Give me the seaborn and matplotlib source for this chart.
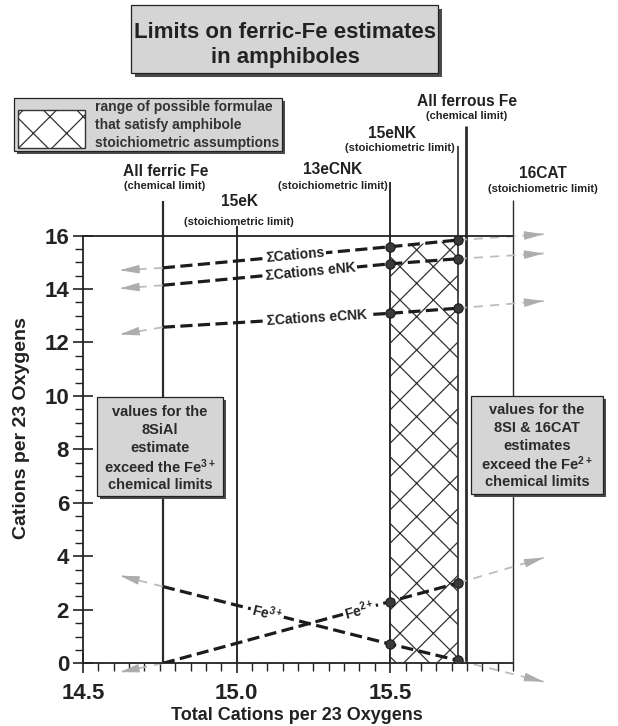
import numpy as np
import pandas as pd
import matplotlib
matplotlib.use('Agg')
import matplotlib.pyplot as plt
from matplotlib.patches import Rectangle
import seaborn as sns

# estimate positions (all ferric Fe, 13eCNK, 15eNK) and extrapolation ends
est_x = [14.76, 15.5, 15.72]
ext_x = [14.62, 16.0]

sum_cations = [14.79, 15.58, 15.83]
sum_enk = [14.14, 14.94, 15.13]
sum_ecnk = [12.57, 13.09, 13.28]
fe3 = [2.87, 0.72, 0.11]
fe2 = [0.0, 2.31, 3.00]

sum_cations_ext = [14.70, 16.05]
sum_enk_ext = [14.02, 15.33]
sum_ecnk_ext = [12.30, 13.55]
fe3_ext = [3.28, -0.69]
fe2_ext = [-0.33, 3.95]

series_names = ['ΣCations', 'ΣCations eNK', 'ΣCations eCNK', 'Fe$^{3+}$', 'Fe$^{2+}$']
series_vals = [sum_cations, sum_enk, sum_ecnk, fe3, fe2]
series_ext = [sum_cations_ext, sum_enk_ext, sum_ecnk_ext, fe3_ext, fe2_ext]
label_at = [15.19, 15.24, 15.26, 15.10, 15.40]

# vertical limits
limit_names = ['All ferric Fe', '15eK', '13eCNK', '15eNK', 'All ferrous Fe', '16CAT']
limit_notes = ['(chemical limit)', '(stoichiometric limit)', '(stoichiometric limit)',
               '(stoichiometric limit)', '(chemical limit)', '(stoichiometric limit)']
limit_x = [14.76, 15.0, 15.5, 15.72, 15.746, 15.9]
limit_top = [17.28, 16.35, 18.0, 19.35, 20.1, 17.33]

x_ticks = [14.5, 15.0, 15.5]
x_ticklabels = ['14.5', '15.0', '15.5']
y_ticks = [0, 2, 4, 6, 8, 10, 12, 14, 16]

left_box_lines = ['values for the', '8SiAl', 'estimate', 'exceed the Fe$^{3+}$', 'chemical limits']
right_box_lines = ['values for the', '8SI & 16CAT', 'estimates', 'exceed the Fe$^{2+}$', 'chemical limits']
legend_lines = ['range of possible formulae', 'that satisfy amphibole', 'stoichiometric assumptions']

sns.set_theme(style='ticks')
plt.rcParams['font.family'] = ['Liberation Sans', 'DejaVu Sans']
plt.rcParams['mathtext.fontset'] = 'custom'
plt.rcParams['mathtext.rm'] = 'Liberation Sans:bold'
plt.rcParams['mathtext.it'] = 'Liberation Sans:bold'
plt.rcParams['mathtext.bf'] = 'Liberation Sans:bold'
plt.rcParams['hatch.linewidth'] = 0.9
plt.rcParams['lines.dashed_pattern'] = [3.8, 1.7]

W, H = 618, 726
INK = '#222222'


def fx(px):
    return px / W


def fy(py):
    return 1 - py / H


fig = plt.figure(figsize=(W / 100, H / 100), dpi=100)
ax = fig.add_axes([fx(83), fy(663.3), 430 / W, 427.8 / H])
ax.set_xlim(14.5, 15.9)
ax.set_ylim(0, 16)

# hatched range of acceptable formulae
ax.fill_between(est_x[1:], 0, sum_cations[1:], facecolor='white', edgecolor='#333333',
                hatch='x', linewidth=0, zorder=1)

# limit lines
limit_lw = [1.6, 1.4, 1.4, 1.2, 2.0, 1.0]
for xv, top, lw in zip(limit_x, limit_top, limit_lw):
    ax.plot([xv, xv], [0, top], color='#2b2b2b', lw=lw, clip_on=False, zorder=2,
            solid_capstyle='butt')

# black dashed estimate lines + dots
rows = []
for name, ys in zip(series_names, series_vals):
    for xv, yv in zip(est_x, ys):
        rows.append((name, xv, yv))
df = pd.DataFrame(rows, columns=['series', 'x', 'y'])
sns.lineplot(data=df, x='x', y='y', units='series', estimator=None, sort=False,
             color='#1c1c1c', lw=2.3, linestyle='--', ax=ax, legend=False, zorder=3)
dots = df[df['x'] > est_x[0]]
sns.scatterplot(data=dots, x='x', y='y', s=45, color='#3a3a3a', edgecolor='#1a1a1a',
                linewidth=0.8, ax=ax, legend=False, zorder=4)

# gray extrapolations with arrow heads
for ys, ext in zip(series_vals, series_ext):
    for x0, y0, x1, y1 in [(est_x[0], ys[0], ext_x[0], ext[0]), (est_x[-1], ys[-1], ext_x[1], ext[1])]:
        ax.plot([x0, x1], [y0, y1], color='#bdbdbd', lw=1.3, ls=(0, (5, 4)), clip_on=False, zorder=2)
        bx = x1 - (x1 - x0) * 0.2
        by = y1 - (y1 - y0) * 0.2
        ax.annotate('', xy=(x1, y1), xytext=(bx, by), annotation_clip=False,
                    arrowprops=dict(arrowstyle='-|>,head_length=1.0,head_width=0.22',
                                    color='#adadad', lw=0.8, shrinkA=0, shrinkB=0))

# in-line labels
for name, ys, xl in zip(series_names, series_vals, label_at):
    yl = np.interp(xl, est_x, ys)
    slope = (ys[1] - ys[0]) / (est_x[1] - est_x[0])
    ax.text(xl, yl, name, rotation=np.degrees(np.arctan(slope)), transform_rotates_text=True,
            rotation_mode='anchor', ha='center', va='center', fontsize=10, fontweight='bold',
            color=INK, bbox=dict(fc='white', ec='none', pad=1.2), zorder=5)

# axes cosmetics
ax.spines['right'].set_visible(False)
for s in ['left', 'bottom', 'top']:
    ax.spines[s].set_linewidth(1.3)
    ax.spines[s].set_color(INK)
ax.set_xticks(x_ticks)
ax.set_xticklabels(x_ticklabels)
ax.set_xticks(np.arange(14.55, 15.91, 0.05), minor=True)
ax.set_yticks(y_ticks)
ax.set_yticks(np.arange(0, 16.1, 0.5), minor=True)
ax.tick_params(which='major', direction='inout', length=14, width=1.2, labelsize=16,
               colors=INK, pad=3)
ax.tick_params(which='minor', direction='out', length=6, width=1, colors=INK)
ax.tick_params(axis='x', which='major', pad=7)
for lab in ax.get_xticklabels() + ax.get_yticklabels():
    lab.set_fontweight('bold')
ax.set_xlabel('')
ax.set_ylabel('')

fig.text(fx(297), fy(715), 'Total Cations per 23 Oxygens', ha='center', va='center',
         fontsize=13, fontweight='bold', color=INK)
fig.text(fx(22), fy(428), 'Cations per 23 Oxygens', ha='center', va='center', rotation=90,
         fontsize=14, fontweight='bold', color=INK)

# labels of the limit lines (pixel layout)
label_pos = [(166, 172), (239.5, 202), (333, 169), (392, 133), (467, 102), (543, 173)]
note_pos = [(165, 186, 'center'), (239, 222, 'center'), (388, 186, 'right'),
            (455, 148, 'right'), (467, 116, 'center'), (543, 189, 'center')]
for name, note, (lx, ly), (nx, ny, nha) in zip(limit_names, limit_notes, label_pos, note_pos):
    fig.text(fx(lx), fy(ly), name, ha='center', va='center', fontsize=11.2,
             fontweight='bold', color=INK)
    fig.text(fx(nx), fy(ny), note, ha=nha, va='center', fontsize=8, fontweight='bold', color=INK)


def shadow_box(x0, y0, x1, y1, off=3, fc='#d5d5d5'):
    fig.add_artist(Rectangle((fx(x0 + off), fy(y1 + off)), (x1 - x0) / W, (y1 - y0) / H,
                             transform=fig.transFigure, fc='#4a4a4a', ec='none', zorder=5))
    fig.add_artist(Rectangle((fx(x0), fy(y1)), (x1 - x0) / W, (y1 - y0) / H,
                             transform=fig.transFigure, fc=fc, ec=INK, lw=0.9, zorder=6))


# title box
shadow_box(131, 5, 438, 73, off=4)
fig.text(fx(285), fy(32), 'Limits on ferric-Fe estimates', ha='center', va='center',
         fontsize=16, fontweight='bold', color=INK, zorder=7)
fig.text(fx(285), fy(58), 'in amphiboles', ha='center', va='center',
         fontsize=16, fontweight='bold', color=INK, zorder=7)

# legend box
shadow_box(14, 98, 282, 151, off=3)
fig.add_artist(Rectangle((fx(18), fy(148)), 67 / W, 38 / H, transform=fig.transFigure,
                         fc='white', ec='#333333', lw=1.0, hatch='x', zorder=7))
for i, line in enumerate(legend_lines):
    fig.text(fx(95), fy(107 + 18 * i), line, ha='left', va='center', fontsize=10,
             fontweight='bold', color='#333333', zorder=7)

# annotation boxes
shadow_box(97, 397, 223, 496)
for i, line in enumerate(left_box_lines):
    fig.text(fx(160), fy(412 + 18.2 * i), line, ha='center', va='center', fontsize=10.5,
             fontweight='bold', color='#2a2a2a', zorder=7)
shadow_box(471, 396, 603, 494)
for i, line in enumerate(right_box_lines):
    fig.text(fx(537), fy(410 + 18 * i), line, ha='center', va='center', fontsize=10.5,
             fontweight='bold', color='#2a2a2a', zorder=7)

fig.savefig('out.png', dpi=100, facecolor='white')
